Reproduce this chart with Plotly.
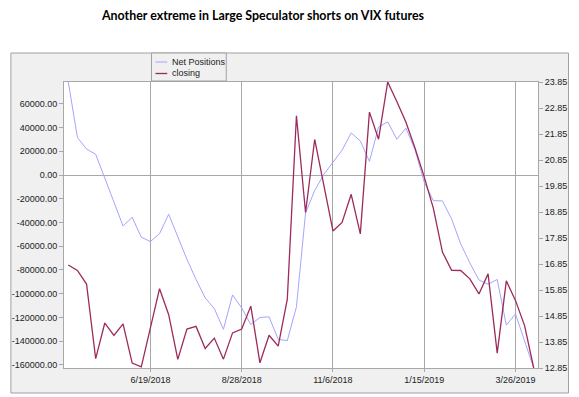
import plotly.graph_objects as go
import numpy as np

# ---------------- data ----------------
chart_title = "Another extreme in Large Speculator shorts on VIX futures"
series_names = ["Net Positions", "closing"]

dates = [
    "2018-04-17", "2018-04-24", "2018-05-01", "2018-05-08", "2018-05-15", "2018-05-22",
    "2018-05-29", "2018-06-05", "2018-06-12", "2018-06-19", "2018-06-26", "2018-07-03",
    "2018-07-10", "2018-07-17", "2018-07-24", "2018-07-31", "2018-08-07", "2018-08-14",
    "2018-08-21", "2018-08-28", "2018-09-04", "2018-09-11", "2018-09-18", "2018-09-25",
    "2018-10-02", "2018-10-09", "2018-10-16", "2018-10-23", "2018-10-30", "2018-11-06",
    "2018-11-13", "2018-11-20", "2018-11-27", "2018-12-04", "2018-12-11", "2018-12-18",
    "2018-12-25", "2019-01-01", "2019-01-08", "2019-01-15", "2019-01-22", "2019-01-29",
    "2019-02-05", "2019-02-12", "2019-02-19", "2019-02-26", "2019-03-05", "2019-03-12",
    "2019-03-19", "2019-03-26", "2019-04-02", "2019-04-09",
]

net_positions = [
    78400, 31700, 21900, 17500, -2500, -22500, -43000, -35600, -52400, -56000,
    -49400, -33000, -52000, -71000, -88000, -103500, -112500, -130000, -101000, -112000,
    -126000, -120000, -119500, -138500, -139500, -111000, -32000, -13000, 500, 11000,
    21000, 35500, 28700, 11500, 40500, 44800, 30200, 39500, 21200, -6000,
    -21600, -21800, -37000, -58000, -74000, -88500, -92000, -88000, -126500, -117000,
    -140000, -162600,
]

closing = [
    16.81, 16.60, 16.08, 13.21, 14.58, 14.10, 14.55, 13.04, 12.89, 14.35,
    15.90, 14.90, 13.18, 14.35, 14.45, 13.60, 14.00, 13.19, 14.20, 14.35,
    15.23, 13.05, 14.11, 13.69, 15.50, 22.55, 18.83, 21.64, 19.95, 18.12,
    18.45, 19.53, 18.01, 22.69, 21.65, 23.85, 23.10, 22.30, 21.30, 20.20,
    19.00, 17.31, 16.61, 16.60, 16.28, 15.70, 16.47, 13.42, 16.20, 15.45,
    14.48, 12.85,
]

x_tick_dates = ["2018-06-19", "2018-08-28", "2018-11-06", "2019-01-15", "2019-03-26"]
x_tick_labels = ["6/19/2018", "8/28/2018", "11/6/2018", "1/15/2019", "3/26/2019"]
left_tick_values = [-160000, -140000, -120000, -100000, -80000, -60000, -40000,
                    -20000, 0, 20000, 40000, 60000]

# ---------------- styling / layout ----------------
W, H = 579, 397
L, R, T, B = 59, 541, 82, 368          # plot area in pixels
BLUE = "#a4a4ff"
RED = "#9c2a5c"
GRID = "#a8a8a8"
FONT = "Liberation Sans, Arial, sans-serif"


def fx(p):
    return (p - L) / (R - L)


def fy(p):
    return (B - p) / (B - T)


right_lo, right_hi = min(closing), max(closing)
right_tick_values = [float(v) for v in np.round(np.arange(right_lo, right_hi + 0.001, 1.0), 2)]
right_tick_text = [f"{v:.2f}" for v in right_tick_values]
left_tick_text = [f"{v:.2f}" for v in left_tick_values]

pad = np.timedelta64(int(3.3 * 24), "h")
x0 = np.datetime64(dates[0]) - pad
x1 = np.datetime64(dates[-1]) + pad

fig = go.Figure()
fig.add_trace(go.Scatter(x=dates, y=net_positions, name=series_names[0], mode="lines",
                         line=dict(color=BLUE, width=1), yaxis="y"))
fig.add_trace(go.Scatter(x=dates, y=closing, name=series_names[1], mode="lines",
                         line=dict(color=RED, width=1.3), yaxis="y2"))

shapes = [
    dict(type="rect", xref="paper", yref="paper", x0=fx(5), x1=fx(572), y0=fy(393), y1=fy(53),
         fillcolor="#f0f0f0", line=dict(color="#a0a0a0", width=1), layer="below"),
    dict(type="rect", xref="paper", yref="paper", x0=0, x1=1, y0=0, y1=1,
         fillcolor="white", line=dict(width=0), layer="below"),
    dict(type="rect", xref="paper", yref="paper", x0=fx(148), x1=fx(224), y0=fy(81), y1=fy(53),
         fillcolor="#f0f0f0", line=dict(color="#a0a0a0", width=1), layer="above"),
    dict(type="line", xref="paper", yref="paper", x0=fx(152), x1=fx(164), y0=fy(62), y1=fy(62),
         line=dict(color=BLUE, width=1)),
    dict(type="line", xref="paper", yref="paper", x0=fx(152), x1=fx(164), y0=fy(73.5), y1=fy(73.5),
         line=dict(color=RED, width=1.3)),
]

annotations = [
    dict(text=f"<b>{chart_title}</b>", xref="paper", yref="paper", x=fx(261), y=fy(15.5),
         xanchor="center", yanchor="middle", showarrow=False,
         font=dict(family="Lato, Open Sans, sans-serif", size=12.4, color="black")),
    dict(text=series_names[0], xref="paper", yref="paper", x=fx(167), y=fy(62),
         xanchor="left", yanchor="middle", showarrow=False,
         font=dict(family=FONT, size=9, color="#222")),
    dict(text=series_names[1], xref="paper", yref="paper", x=fx(167), y=fy(73.5),
         xanchor="left", yanchor="middle", showarrow=False,
         font=dict(family=FONT, size=9, color="#222")),
]

fig.update_layout(
    width=W, height=H,
    margin=dict(l=L, r=W - R, t=T, b=H - B, pad=0),
    paper_bgcolor="white", plot_bgcolor="white",
    showlegend=False,
    shapes=shapes, annotations=annotations,
    xaxis=dict(type="date", range=[str(x0), str(x1)], tickvals=x_tick_dates, ticktext=x_tick_labels,
               showgrid=True, gridcolor=GRID, gridwidth=1,
               showline=True, linecolor=GRID, linewidth=1, mirror=True,
               ticks="outside", ticklen=3, tickcolor=GRID,
               tickfont=dict(family=FONT, size=9, color="#222"), zeroline=False),
    yaxis=dict(range=[min(net_positions), max(net_positions)], tickvals=left_tick_values,
               ticktext=left_tick_text, showgrid=False,
               zeroline=True, zerolinecolor=GRID, zerolinewidth=1,
               showline=True, linecolor=GRID, linewidth=1,
               ticks="outside", ticklen=4, tickcolor=GRID,
               tickfont=dict(family=FONT, size=9, color="#222")),
    yaxis2=dict(range=[right_lo, right_hi], overlaying="y", side="right",
                tickvals=right_tick_values, ticktext=right_tick_text, showgrid=False,
                zeroline=False, showline=True, linecolor=GRID, linewidth=1,
                ticks="outside", ticklen=4, tickcolor=GRID,
                tickfont=dict(family=FONT, size=9, color="#222")),
)

fig.write_html("out.html", config={"displayModeBar": False},
               post_script="document.body.style.margin='0px';")
